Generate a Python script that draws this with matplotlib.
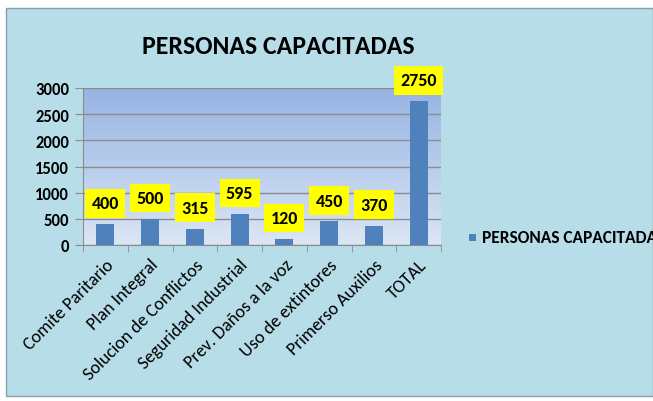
import numpy as np
import matplotlib
matplotlib.use("Agg")
import matplotlib.pyplot as plt
from matplotlib.colors import LinearSegmentedColormap
from matplotlib.patches import Rectangle

categories = ["Comite Paritario", "Plan Integral", "Solucion de Conflictos",
              "Seguridad Industrial", "Prev. Daños a la voz", "Uso de extintores",
              "Primerso Auxilios", "TOTAL"]
values = [400, 500, 315, 595, 120, 450, 370, 2750]
yticks = [0, 500, 1000, 1500, 2000, 2500, 3000]
title = "PERSONAS CAPACITADAS"
series_name = "PERSONAS CAPACITADAS"

plt.rcParams['font.family'] = ['Carlito', 'Lato', 'DejaVu Sans']

W, H = 653, 402
fig = plt.figure(figsize=(W / 100, H / 100), dpi=100)
fig.patch.set_facecolor("white")

# chart area
fig.patches.append(Rectangle((6 / W, 1 - 397 / H), (W - 6) / W, (397 - 9) / H,
                             transform=fig.transFigure, facecolor="#B7DDE8",
                             edgecolor="#8C9CA8", linewidth=1.0, zorder=-10))

ax = fig.add_axes([83 / W, 1 - 246 / H, (441 - 83) / W, (246 - 89) / H])
ax.set_xlim(-0.5, len(categories) - 0.5)
ax.set_ylim(0, 3000)

cmap = LinearSegmentedColormap.from_list("g", ["#DCE6F4", "#95B3E3"])
grad = np.linspace(0, 1, 256).reshape(-1, 1)
ax.imshow(grad, cmap=cmap, origin="lower", aspect="auto",
          extent=[-0.5, len(categories) - 0.5, 0, 3000], zorder=0)

ax.set_yticks(yticks)
ax.yaxis.grid(True, color="#8C8C8C", linewidth=1.0, zorder=1)
ax.set_axisbelow(True)

x = np.arange(len(categories))
bars = ax.bar(x, values, width=0.4, color="#4F81BD", zorder=3,
              label=series_name)

for xi, v in zip(x, values):
    ax.annotate(str(v), (xi, v), xytext=(0, 15), textcoords="offset points",
                ha="center", va="center", fontsize=13, fontweight="bold",
                color="black", zorder=5,
                bbox=dict(boxstyle="square,pad=0.35", facecolor="#FFFF00",
                          edgecolor="none"))

for s in ["top", "right"]:
    ax.spines[s].set_visible(False)
ax.spines["left"].set_color("#8C8C8C")
ax.spines["bottom"].set_color("#8C8C8C")

ax.set_yticklabels([str(t) for t in yticks], fontsize=12, fontweight="bold")
ax.tick_params(axis="y", length=6, color="#8C8C8C", pad=4)

ax.set_xticks(x)
ax.set_xticklabels(categories, rotation=45, ha="right", rotation_mode="anchor",
                   fontsize=13)
ax.tick_params(axis="x", length=0, pad=8)
ax.set_xticks(np.arange(-0.5, len(categories) + 0.5, 1), minor=True)
ax.tick_params(axis="x", which="minor", length=5, color="#8C8C8C")

fig.text(278 / W, 1 - 46 / H, title, ha="center", va="center",
         fontsize=18.5, fontweight="bold")

# legend
fig.patches.append(Rectangle((469 / W, 1 - 242 / H), 7 / W, 7 / H,
                             transform=fig.transFigure, facecolor="#4F81BD",
                             edgecolor="none"))
fig.text(482 / W, 1 - 238.5 / H, series_name, ha="left", va="center",
         fontsize=12.5, fontweight="bold")

fig.savefig("out.png", dpi=100)
